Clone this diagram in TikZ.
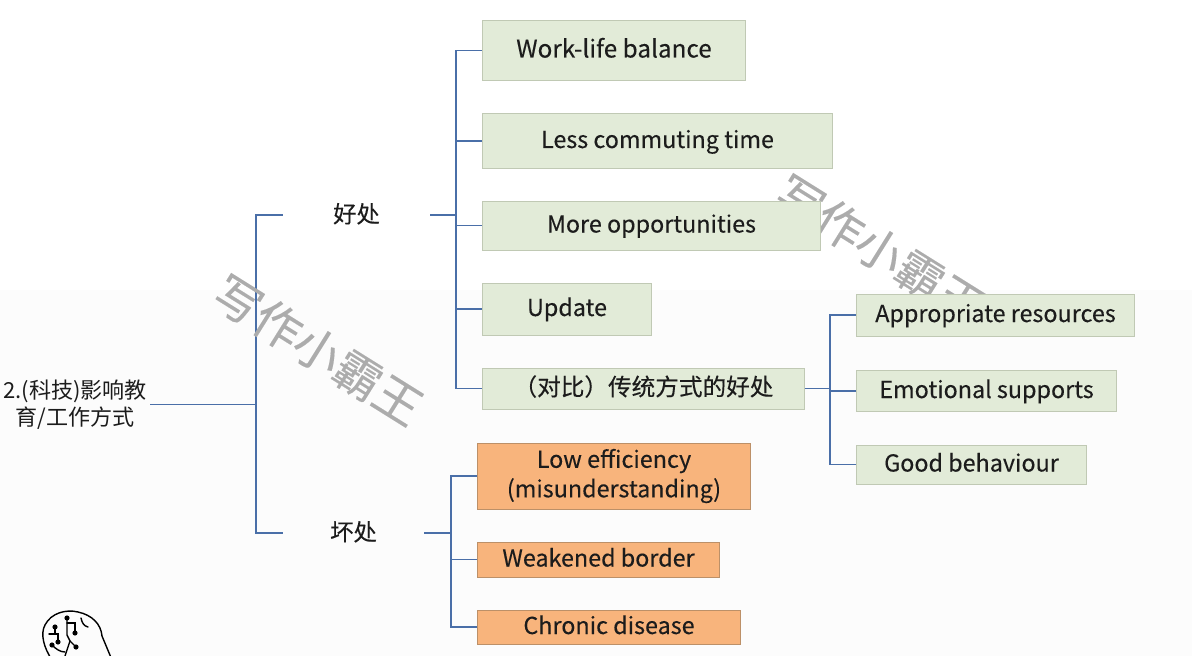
\documentclass[tikz,border=0pt]{standalone}
\usepackage{fontspec}
\setmainfont[FakeBold=0.2,AutoFakeBold=0.2]{Noto Sans CJK SC}
\newfontfamily\softfont{Noto Sans CJK SC}
\definecolor{linkblue}{HTML}{4A6FA8}
\definecolor{goodfill}{HTML}{E2EBD8}
\definecolor{goodedge}{HTML}{C0C9B4}
\definecolor{badfill}{HTML}{F8B47C}
\definecolor{badedge}{HTML}{BC9068}
\definecolor{markgray}{HTML}{ACACAC}
\definecolor{inkblack}{HTML}{1C1C1C}
\tikzset{
  link/.style={draw=linkblue, line width=1.1pt},
  label/.style={font=\fontsize{16.6}{21}\bfseries, text=inkblack, inner sep=0pt, align=center},
  oneline/.style={text height=0.45cm, text depth=0.1cm},
  goodbox/.style={label, oneline, draw=goodedge, fill=goodfill, line width=0.7pt},
  badbox/.style={label, draw=badedge, fill=badfill, line width=0.7pt},
  branch/.style={label, text height=0.4cm, text depth=0.02cm, minimum height=0.6cm},
  wmark/.style={font=\fontsize{33.6}{34}\bfseries, text=markgray, rotate=-32, inner sep=0pt},
  brainline/.style={draw=black, line width=1pt, line cap=round},
}
\begin{document}
\begin{tikzpicture}[x=0.025cm, y=-0.025cm]
\useasboundingbox (0,0) rectangle (1192,656);
\clip (0,0) rectangle (1192,656);
\fill[white] (0,0) rectangle (1192,656);
\fill[black!1] (0,290) rectangle (1192,656);

% watermarks
\node[wmark] (markb) at (880,250) {写作小霸王};

% root and branches
\node[label, font=\softfont\fontsize{15.7}{20}\selectfont, minimum width=3.75cm] (root) at (75,404.5) {2.(科技)影响教\\[-1pt]育/工作方式};
\node[branch, minimum width=3.675cm] (hao) at (356.5,215) {好处};
\node[branch, minimum width=3.525cm] (huai) at (353.5,533) {坏处};
\coordinate (rootjoint) at (256,404.5);
\coordinate (haojoint) at (456,215);
\coordinate (huaijoint) at (451,533);
\coordinate (oldjoint) at (830,388.5);

% benefits
\node[goodbox, minimum width=6.55cm, minimum height=1.475cm, font=\fontsize{17.3}{21}\bfseries] (balance) at (614,50.5) {Work-life balance};
\node[goodbox, minimum width=8.725cm, minimum height=1.35cm] (commute) at (657.5,141) {Less commuting time};
\node[goodbox, minimum width=8.425cm, minimum height=1.225cm] (chance) at (651.5,225.5) {More opportunities};
\node[goodbox, minimum width=4.2cm, minimum height=1.3cm] (update) at (567,309) {Update};
\node[goodbox, minimum width=8.025cm, minimum height=1.025cm, font=\fontsize{16.8}{21}\bfseries] (old) at (643.5,388.5) {（对比）传统方式的好处};

% traditional way
\node[goodbox, minimum width=6.925cm, minimum height=1.05cm] (resource) at (995.5,315) {Appropriate resources};
\node[goodbox, minimum width=6.475cm, minimum height=1.025cm] (support) at (986.5,391) {Emotional supports};
\node[goodbox, minimum width=5.725cm, minimum height=0.975cm] (behave) at (971.5,464.5) {Good behaviour};

% drawbacks
\node[badbox, minimum width=6.8cm, minimum height=1.65cm] (lowrate) at (614,476) {Low efficiency\\(misunderstanding)};
\node[badbox, oneline, minimum width=6.025cm, minimum height=0.875cm] (border) at (598.5,559.5) {Weakened border};
\node[badbox, oneline, minimum width=6.55cm, minimum height=0.85cm] (disease) at (609,627) {Chronic disease};

% connectors
\draw[link] (root.east) -- (rootjoint);
\draw[link] (rootjoint) |- (hao.west);
\draw[link] (rootjoint) |- (huai.west);
\draw[link] (hao.east) -- (haojoint);
\draw[link] (haojoint) |- (balance.west);
\draw[link] (haojoint) |- (commute.west);
\draw[link] (haojoint) |- (chance.west);
\draw[link] (haojoint) |- (update.west);
\draw[link] (haojoint) |- (old.west);
\draw[link] (old.east) -- (oldjoint);
\draw[link] (oldjoint) |- (resource.west);
\draw[link] (oldjoint) |- (support.west);
\draw[link] (oldjoint) |- (behave.west);
\draw[link] (huai.east) -- (huaijoint);
\draw[link] (huaijoint) |- (lowrate.west);
\draw[link] (huaijoint) |- (border.west);
\draw[link] (huaijoint) |- (disease.west);

\node[wmark] (marka) at (318,350) {写作小霸王};

% brain
\draw[brainline] (52,660) .. controls (44,648) and (40,634) .. (45,625)
  .. controls (51,613) and (66,609) .. (78,612)
  .. controls (92,615) and (101,624) .. (102,636) -- (112,660);
\draw[brainline] (67,618) -- (67,635) -- (70,641) -- (65,656);
\draw[brainline] (67,623) -- (75,623) -- (75,633);
\draw[brainline] (70,641) -- (76,647);
\draw[brainline] (81,618) .. controls (82,623) and (84,626) .. (88,627);
\draw[brainline] (55,627) -- (55,634);
\draw[brainline] (49,634) -- (58,634) -- (58,642);
\draw[brainline] (52,645) .. controls (56,649) and (60,652) .. (65,652);
\foreach \dotx/\doty in {67/618, 75/633, 55/627, 58/642, 52/645, 76/647}
  \fill (\dotx,\doty) circle (2.6);
\end{tikzpicture}
\end{document}
